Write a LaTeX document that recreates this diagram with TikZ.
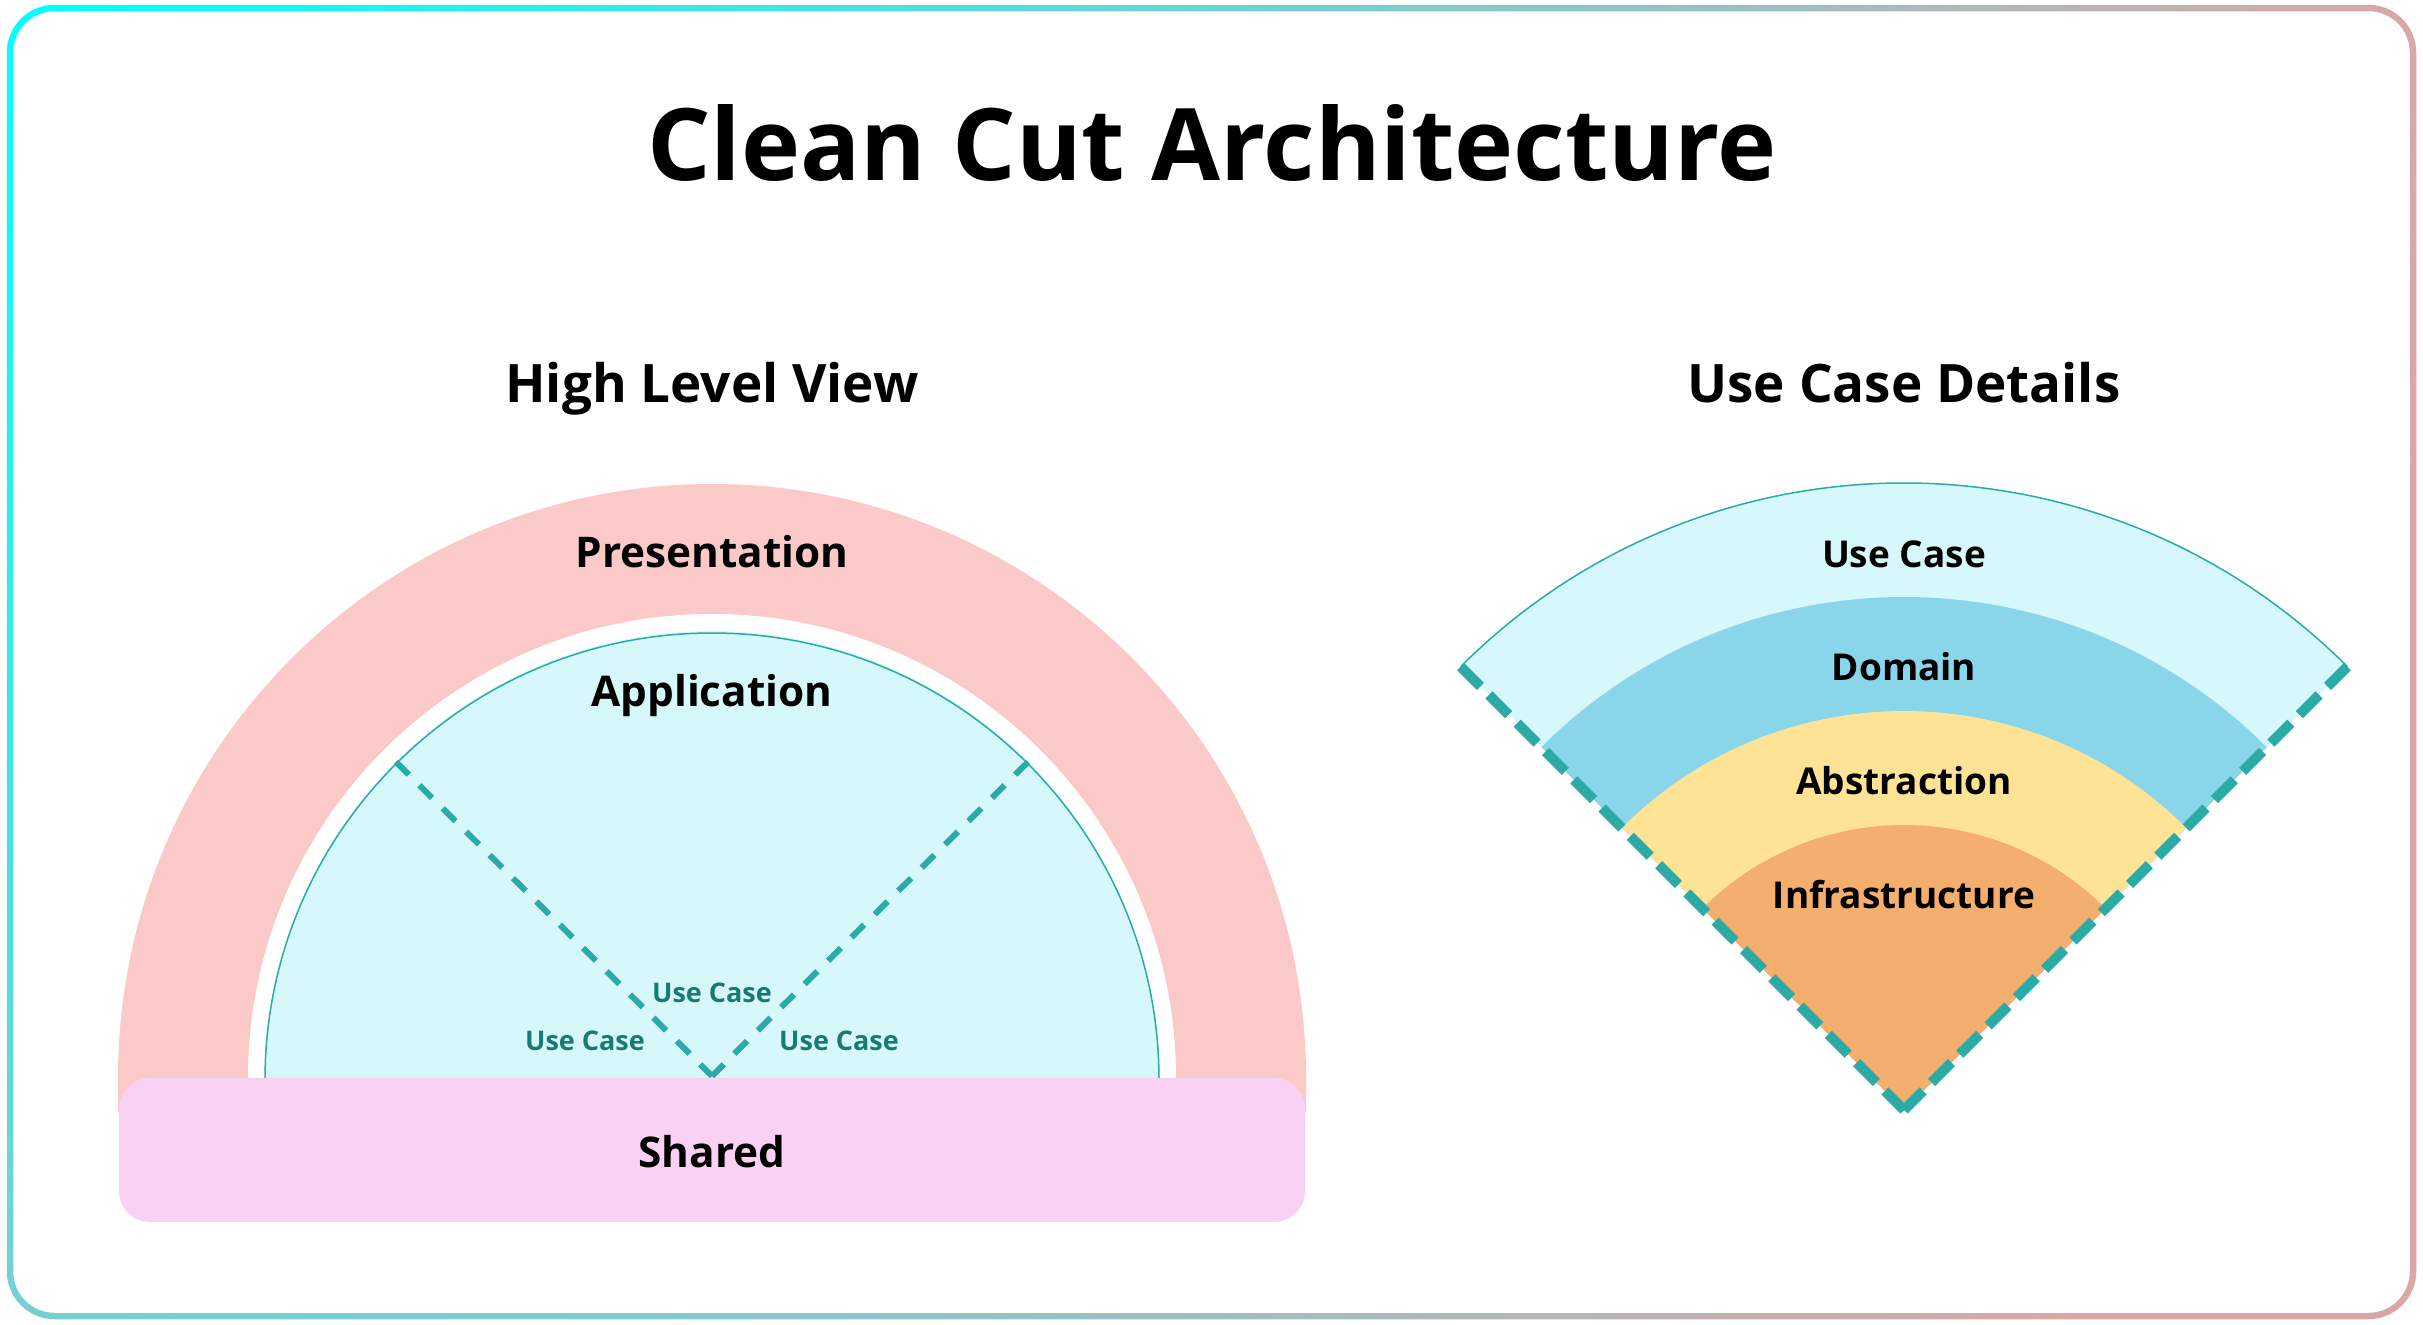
\documentclass[tikz,border=0pt]{standalone}
\usepackage{fontspec}
\setmainfont{Open Sans}
\definecolor{bcyan}{HTML}{00FFFF}
\definecolor{bpink}{HTML}{DDA6A6}
\definecolor{cPres}{HTML}{FCC9C9}
\definecolor{cApp}{HTML}{D7F8FA}
\definecolor{cShared}{HTML}{F8D1F3}
\definecolor{cDomain}{HTML}{89D5EA}
\definecolor{cAbs}{HTML}{FEE397}
\definecolor{cInfra}{HTML}{F4AE6D}
\definecolor{cTeal}{HTML}{2BAAA6}
\definecolor{cTealText}{HTML}{177A74}
\pgfdeclareradialshading{bordershade}{\pgfpoint{0bp}{0bp}}{color(0bp)=(bcyan); color(2450bp)=(bpink); color(2800bp)=(bpink)}
\begin{document}
\begin{tikzpicture}[x=1pt,y=-1pt,
  titletxt/.style={font=\fontsize{100}{118}\selectfont\bfseries, anchor=base, inner sep=0pt},
  subtxt/.style={font=\fontsize{53}{63}\selectfont\bfseries, anchor=base, inner sep=0pt},
  lbltxt/.style={font=\fontsize{42.3}{51}\selectfont\bfseries, anchor=base, inner sep=0pt},
  flbltxt/.style={font=\fontsize{37}{44}\selectfont\bfseries, anchor=base, inner sep=0pt},
  uctxt/.style={font=\fontsize{27}{32}\selectfont\bfseries, text=cTealText, anchor=base, inner sep=0pt},
  thinteal/.style={draw=cTeal, line width=1.5pt},
  vdash/.style={draw=cTeal, line width=6pt, dash pattern=on 18pt off 15pt},
  fdash/.style={draw=cTeal, line width=10pt, dash pattern=on 28pt off 12pt}]
\useasboundingbox (0,0) rectangle (2423,1325);
\fill[white] (0,0) rectangle (2423,1325);
% gradient frame
\begin{scope}
  \clip[rounded corners=48pt] (6.75,4.75) rectangle (2416.25,1319.25);
  \node[inner sep=0pt, outer sep=0pt] (frameshade) at (8,6) {\pgfuseshading{bordershade}};
\end{scope}
\fill[white, rounded corners=41.5pt] (13.25,11.25) rectangle (2409.75,1312.75);

% ---------- left: high level view ----------
\coordinate (L) at (712,1078);
\fill[cPres] (118,1112) -- (118,1078) arc[start angle=180, end angle=360, radius=594] -- (1306,1112) -- cycle;
\fill[white] (248,1112) -- (248,1078) arc[start angle=180, end angle=360, radius=464] -- (1176,1112) -- cycle;
\fill[cApp] (265,1100) -- (265,1078) arc[start angle=180, end angle=360, radius=447] -- (1159,1100) -- cycle;
\draw[thinteal] (265,1080) arc[start angle=180, end angle=360, radius=447];
\path (L) ++(225:447) coordinate (vl);
\path (L) ++(315:447) coordinate (vr);
\coordinate (apexL) at (712,1076);
\draw[vdash] (vl) -- (apexL);
\draw[vdash] (vr) -- (apexL);
\fill[cShared, rounded corners=31pt] (119,1078) rectangle (1305,1222);

% ---------- right: use case details ----------
\coordinate (F) at (1904,1110);
\fill[cApp] (F) -- ++(225:627) arc[start angle=225, end angle=315, radius=627] -- cycle;
\fill[cDomain] (F) -- ++(225:513) arc[start angle=225, end angle=315, radius=513] -- cycle;
\fill[cAbs] (F) -- ++(225:399) arc[start angle=225, end angle=315, radius=399] -- cycle;
\fill[cInfra] (F) -- ++(225:285) arc[start angle=225, end angle=315, radius=285] -- cycle;
\path (F) ++(225:627) coordinate (fl);
\path (F) ++(315:627) coordinate (fr);
\draw[thinteal] (fl) arc[start angle=225, end angle=315, radius=627];
\draw[fdash] (fl) -- (F);
\draw[fdash] (fr) -- (F);

% ---------- texts ----------
\node[titletxt] (title) at (1212,180) {Clean Cut Architecture};
\node[subtxt] (hlv) at (712,402) {High Level View};
\node[subtxt] (ucd) at (1904,402) {Use Case Details};
\node[lbltxt] (presentation) at (712,567) {Presentation};
\node[lbltxt] (application) at (712,706) {Application};
\node[lbltxt] (shared) at (712,1167) {Shared};
\node[uctxt] (uctop) at (712,1002) {Use Case};
\node[uctxt] (ucleft) at (585,1050) {Use Case};
\node[uctxt] (ucright) at (839,1050) {Use Case};
\node[flbltxt] (fusecase) at (1904,567) {Use Case};
\node[flbltxt] (fdomain) at (1904,680) {Domain};
\node[flbltxt] (fabstraction) at (1904,794) {Abstraction};
\node[flbltxt] (finfra) at (1904,908) {Infrastructure};
\end{tikzpicture}
\end{document}
